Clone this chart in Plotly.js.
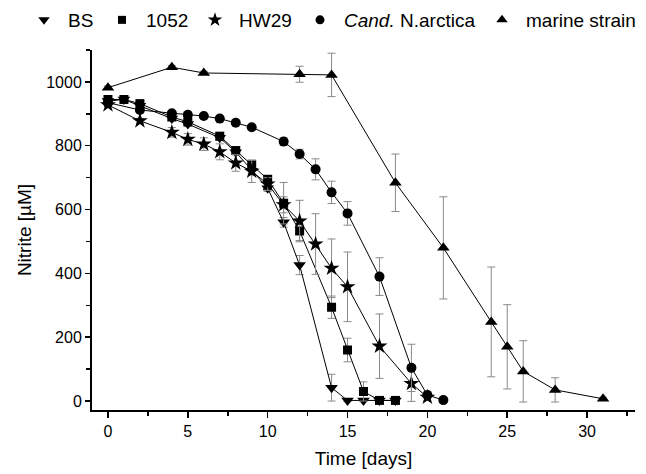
<!DOCTYPE html>
<html>
<head>
<meta charset="utf-8">
<script src="https://cdn.plot.ly/plotly-3.0.1.min.js"></script>
<style>html,body{margin:0;padding:0;background:#fff;}#chart{width:646px;height:474px;}</style>
</head>
<body>
<div id="chart"></div>
<script>
// BS
const bsDays = [0, 1, 2, 4, 5, 7, 8, 9, 10, 11, 12, 14, 15, 16, 17, 18];
const bsVals = [940, 945, 925, 885, 868, 825, 780, 722, 667, 560, 426, 42, 2, 2, 2, 2];
const bsErr  = [5, 5, 5, 5, 8, 8, 8, 10, 10, 15, 30, 42, 3, 3, 3, 3];
// 1052
const s1052Days = [0, 1, 2, 4, 5, 7, 8, 9, 10, 11, 12, 14, 15, 16, 17, 18];
const s1052Vals = [945, 945, 932, 890, 875, 830, 785, 740, 695, 620, 533, 294, 160, 30, 2, 2];
const s1052Err  = [5, 5, 5, 5, 8, 8, 8, 15, 10, 65, 30, 35, 37, 30, 3, 3];
// HW29
const hwDays = [0, 2, 4, 5, 6, 7, 8, 9, 10, 11, 12, 13, 14, 15, 17, 19, 20];
const hwVals = [928, 878, 842, 820, 805, 781, 746, 720, 680, 615, 564, 492, 416, 358, 172, 55, 12];
const hwErr  = [5, 8, 15, 18, 20, 25, 26, 35, 20, 25, 65, 95, 92, 109, 101, 56, 10];
// Cand. N.arctica
const naDays = [0, 2, 4, 5, 6, 7, 8, 9, 11, 12, 13, 14, 15, 17, 19, 20, 21];
const naVals = [935, 912, 902, 897, 893, 885, 872, 858, 813, 774, 726, 654, 588, 390, 104, 19, 3];
const naErr  = [5, 5, 5, 5, 5, 5, 5, 5, 12, 15, 33, 35, 37, 59, 74, 10, 5];
// marine strain
const msDays = [0, 4, 6, 12, 14, 18, 21, 24, 25, 26, 28, 31];
const msVals = [982, 1046, 1028, 1024, 1022, 684, 480, 248, 170, 93, 35, 7];
const msErr  = [5, 5, 5, 25, 68, 90, 160, 172, 132, 96, 38, 3];

const seriesNames = ['BS', '1052', 'HW29', '<i>Cand.</i> N.arctica', 'marine strain'];
const xTicks = [0, 5, 10, 15, 20, 25, 30];
const yTicks = [0, 200, 400, 600, 800, 1000];

const FONT = 'Arial, "Liberation Sans", Helvetica, sans-serif';

function mk(name, x, y, err, symbol, size) {
  return {
    type: 'scatter', mode: 'lines+markers', name: name, x: x, y: y,
    showlegend: false,
    line: {color: '#000', width: 1},
    marker: {symbol: symbol, size: size, color: '#000'},
    error_y: {type: 'data', array: err, visible: true, color: '#8a8a8a', thickness: 1, width: 4},
    cliponaxis: false
  };
}
function lg(name, symbol, size, legendId) {
  return {
    type: 'scatter', mode: 'markers', name: name, x: [null], y: [null],
    showlegend: true, legend: legendId,
    marker: {symbol: symbol, size: size, color: '#000'}
  };
}

const symbols = ['triangle-down', 'square', 'star', 'circle', 'triangle-up'];
const sizes = [11, 9, 12, 10, 11];
const legendSizes = [10, 8, 11, 9, 10];
const legendIds = ['legend', 'legend2', 'legend3', 'legend4', 'legend5'];
const legendX = [20, 98, 191, 296, 478];

const data = [
  mk(seriesNames[0], bsDays, bsVals, bsErr, symbols[0], sizes[0]),
  mk(seriesNames[1], s1052Days, s1052Vals, s1052Err, symbols[1], sizes[1]),
  mk(seriesNames[2], hwDays, hwVals, hwErr, symbols[2], sizes[2]),
  mk(seriesNames[3], naDays, naVals, naErr, symbols[3], sizes[3]),
  mk(seriesNames[4], msDays, msVals, msErr, symbols[4], sizes[4])
];
for (let i = 0; i < 5; i++) data.push(lg(seriesNames[i], symbols[i], legendSizes[i], legendIds[i]));

const layout = {
  width: 646, height: 474,
  margin: {l: 92, r: 11, t: 50, b: 64},
  paper_bgcolor: '#fff', plot_bgcolor: '#fff',
  font: {family: FONT, size: 16, color: '#000'},
  showlegend: true,
  xaxis: {
    range: [-1, 33], tickmode: 'array', tickvals: xTicks, ticktext: xTicks.map(String),
    showgrid: false, zeroline: false, showline: true, linecolor: '#000', linewidth: 2,
    ticks: 'outside', ticklen: 6, tickwidth: 1.5, tickcolor: '#000',
    minor: {tickmode: 'linear', tick0: 2.5, dtick: 5, ticks: 'outside', ticklen: 4, tickwidth: 1.5, tickcolor: '#000', showgrid: false},
    tickfont: {family: FONT, size: 16},
    title: {text: 'Time [days]', font: {family: FONT, size: 19}, standoff: 12}
  },
  yaxis: {
    range: [-28, 1100], tickmode: 'array', tickvals: yTicks, ticktext: yTicks.map(String),
    showgrid: false, zeroline: false, showline: true, linecolor: '#000', linewidth: 2,
    ticks: 'outside', ticklen: 5, tickwidth: 1.5, tickcolor: '#000',
    minor: {tickmode: 'linear', tick0: 100, dtick: 200, ticks: 'outside', ticklen: 4, tickwidth: 1.5, tickcolor: '#000', showgrid: false},
    tickfont: {family: FONT, size: 16},
    title: {text: 'Nitrite [µM]', font: {family: FONT, size: 19}, standoff: 10}
  }
};
for (let i = 0; i < 5; i++) {
  layout[legendIds[i]] = {
    orientation: 'h', xref: 'container', yref: 'container',
    x: legendX[i] / 646, xanchor: 'left', y: 1 - 20 / 474, yanchor: 'middle',
    font: {family: FONT, size: 19, color: '#000'},
    bgcolor: 'rgba(0,0,0,0)', borderwidth: 0, itemwidth: 38
  };
}

Plotly.newPlot('chart', data, layout, {displayModeBar: false, staticPlot: true});
</script>
</body>
</html>
